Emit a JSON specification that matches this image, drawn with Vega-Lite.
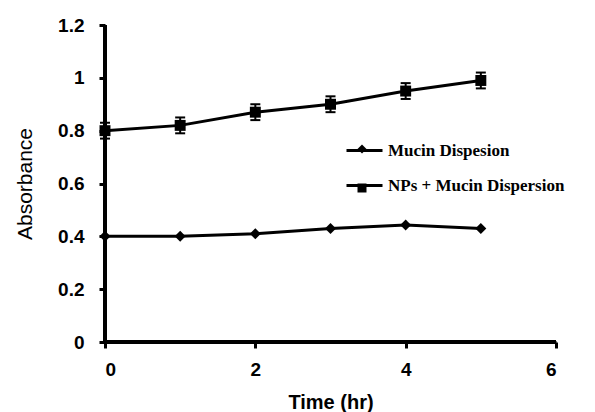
{
  "$schema": "https://vega.github.io/schema/vega-lite/v6.json",
  "width": 451,
  "height": 317,
  "autosize": {"type": "none"},
  "padding": {"left": 105, "top": 25, "right": 39, "bottom": 70},
  "view": {"stroke": null},
  "config": {
    "axis": {
      "grid": false,
      "domainColor": "#000000",
      "domainWidth": 3,
      "tickColor": "#000000",
      "tickWidth": 3,
      "tickSize": 6,
      "format": "~g",
      "labelFont": "Liberation Sans",
      "labelFontSize": 19,
      "labelFontWeight": "bold",
      "labelColor": "black",
      "titleFont": "Liberation Sans",
      "titleColor": "black"
    },
    "axisX": {"tickCount": 3, "titleFontSize": 20, "titleFontWeight": "bold", "labelPadding": 12, "titlePadding": 13},
    "axisY": {"tickCount": 7, "titleFontSize": 21, "titleFontWeight": "normal", "labelPadding": 15, "titlePadding": 22}
  },
  "data": {
    "values": [
      {"series": "Mucin Dispesion", "time": 0, "absorbance": 0.40},
      {"series": "Mucin Dispesion", "time": 1, "absorbance": 0.40},
      {"series": "Mucin Dispesion", "time": 2, "absorbance": 0.41},
      {"series": "Mucin Dispesion", "time": 3, "absorbance": 0.43},
      {"series": "Mucin Dispesion", "time": 4, "absorbance": 0.443},
      {"series": "Mucin Dispesion", "time": 5, "absorbance": 0.43},
      {"series": "NPs + Mucin Dispersion", "time": 0, "absorbance": 0.80, "lo": 0.77, "hi": 0.83},
      {"series": "NPs + Mucin Dispersion", "time": 1, "absorbance": 0.82, "lo": 0.79, "hi": 0.85},
      {"series": "NPs + Mucin Dispersion", "time": 2, "absorbance": 0.87, "lo": 0.84, "hi": 0.90},
      {"series": "NPs + Mucin Dispersion", "time": 3, "absorbance": 0.90, "lo": 0.87, "hi": 0.93},
      {"series": "NPs + Mucin Dispersion", "time": 4, "absorbance": 0.95, "lo": 0.92, "hi": 0.98},
      {"series": "NPs + Mucin Dispersion", "time": 5, "absorbance": 0.99, "lo": 0.96, "hi": 1.02}
    ]
  },
  "layer": [
    {
      "mark": {"type": "line", "strokeWidth": 3},
      "encoding": {
        "x": {"field": "time", "type": "quantitative", "title": "Time (hr)", "scale": {"domain": [0, 6]}},
        "y": {"field": "absorbance", "type": "quantitative", "title": "Absorbance", "scale": {"domain": [0, 1.2]}},
        "color": {
          "field": "series",
          "type": "nominal",
          "scale": {"domain": ["Mucin Dispesion", "NPs + Mucin Dispersion"], "range": ["black", "black"]},
          "legend": {
            "orient": "none",
            "legendX": 240,
            "legendY": 106,
            "title": null,
            "padding": 0,
            "rowPadding": 7,
            "symbolType": "stroke",
            "symbolSize": 1296,
            "symbolStrokeWidth": 3,
            "labelFont": "Liberation Serif",
            "labelFontSize": 17,
            "labelFontWeight": "bold",
            "labelColor": "black",
            "labelOffset": 4,
            "labelLimit": 400
          }
        }
      }
    },
    {
      "mark": {"type": "rule", "color": "black", "strokeWidth": 3},
      "encoding": {"x": {"datum": 0}}
    },
    {
      "mark": {"type": "rule", "color": "black", "strokeWidth": 3},
      "encoding": {"y": {"datum": 0}}
    },
    {
      "transform": [{"filter": "isValid(datum.lo)"}],
      "mark": {"type": "rule", "color": "black", "strokeWidth": 2},
      "encoding": {
        "x": {"field": "time", "type": "quantitative", "title": "Time (hr)"},
        "y": {"field": "lo", "type": "quantitative", "title": "Absorbance"},
        "y2": {"field": "hi"}
      }
    },
    {
      "transform": [{"filter": "isValid(datum.lo)"}],
      "mark": {"type": "point", "shape": "stroke", "filled": false, "color": "black", "opacity": 1, "strokeWidth": 2, "size": 100},
      "encoding": {
        "x": {"field": "time", "type": "quantitative", "title": "Time (hr)"},
        "y": {"field": "lo", "type": "quantitative", "title": "Absorbance"}
      }
    },
    {
      "transform": [{"filter": "isValid(datum.hi)"}],
      "mark": {"type": "point", "shape": "stroke", "filled": false, "color": "black", "opacity": 1, "strokeWidth": 2, "size": 100},
      "encoding": {
        "x": {"field": "time", "type": "quantitative", "title": "Time (hr)"},
        "y": {"field": "hi", "type": "quantitative", "title": "Absorbance"}
      }
    },
    {
      "mark": {"type": "point", "filled": true, "color": "black", "opacity": 1, "size": 120},
      "encoding": {
        "x": {"field": "time", "type": "quantitative", "title": "Time (hr)"},
        "y": {"field": "absorbance", "type": "quantitative", "title": "Absorbance"},
        "shape": {
          "field": "series",
          "type": "nominal",
          "scale": {"domain": ["Mucin Dispesion", "NPs + Mucin Dispersion"], "range": ["diamond", "square"]},
          "legend": {
            "orient": "none",
            "legendX": 248.5,
            "legendY": 115.5,
            "title": null,
            "padding": 0,
            "rowPadding": 21,
            "symbolSize": 81,
            "symbolFillColor": "black",
            "symbolStrokeColor": "black",
            "labelFont": "Liberation Serif",
            "labelFontSize": 17,
            "labelExpr": "''",
            "labelOffset": 17,
            "labelLimit": 400
          }
        }
      }
    }
  ],
  "resolve": {"legend": {"color": "independent", "shape": "independent"}}
}
